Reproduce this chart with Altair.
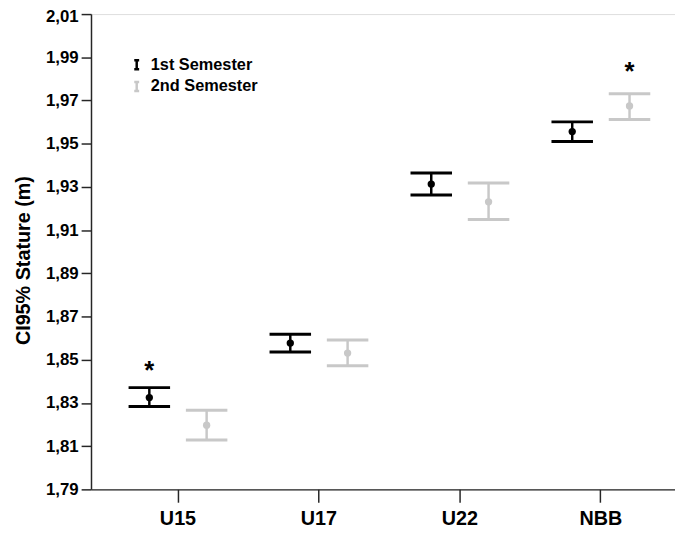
import altair as alt
import pandas as pd

# ---- data ----
categories = ["U15", "U17", "U22", "NBB"]
semesters = ["1st Semester", "2nd Semester"]

sem1_mean = [1.8325, 1.8577, 1.9313, 1.9556]
sem1_lo = [1.8284, 1.8536, 1.9263, 1.9510]
sem1_hi = [1.8371, 1.8618, 1.9364, 1.9601]

sem2_mean = [1.8197, 1.8531, 1.9231, 1.9675]
sem2_lo = [1.8129, 1.8472, 1.9149, 1.9612]
sem2_hi = [1.8266, 1.8591, 1.9318, 1.9731]

star_cat = ["U15", "NBB"]
star_sem = ["1st Semester", "2nd Semester"]
star_y = [1.8472, 1.9853]

y_ticks = [1.79, 1.81, 1.83, 1.85, 1.87, 1.89, 1.91, 1.93, 1.95, 1.97, 1.99, 2.01]
sem_colors = ["#000000", "#c8c8c8"]

rows = []
for i, c in enumerate(categories):
    rows.append(dict(cat=c, sem=semesters[0], mean=sem1_mean[i], lo=sem1_lo[i], hi=sem1_hi[i]))
    rows.append(dict(cat=c, sem=semesters[1], mean=sem2_mean[i], lo=sem2_lo[i], hi=sem2_hi[i]))
df = pd.DataFrame(rows)
stars = pd.DataFrame(dict(cat=star_cat, sem=star_sem, y=star_y))

FONT = "Liberation Sans"

sem_scale = alt.Scale(domain=semesters, range=sem_colors)

x_enc = alt.X(
    "cat:N",
    sort=categories,
    scale=alt.Scale(range=[0, 604], paddingInner=0, paddingOuter=0.117),
    axis=alt.Axis(
        title=None, labelAngle=0, labelFontSize=20, labelFont=FONT,
        labelFontWeight="bold", labelColor="#000", tickSize=13, labelPadding=7,
        domainColor="#262626", tickColor="#262626", domainWidth=1.5, tickWidth=1.5,
        grid=False,
    ),
)
xoff_enc = alt.XOffset("sem:N", sort=semesters,
                       scale=alt.Scale(paddingInner=0, paddingOuter=0.23))

y_scale = alt.Scale(domain=[1.79, 2.01], nice=False, zero=False)
y_axis = alt.Axis(
    title="CI95% Stature (m)", values=y_ticks,
    labelExpr="replace(format(datum.value, '.2f'), '.', ',')",
    labelFontSize=17, labelFont=FONT, labelFontWeight="bold", labelColor="#000",
    labelOffset={"condition": {"test": "datum.value > 2", "value": 3}, "value": 0},
    tickSize=10, labelPadding=3, grid=False,
    domainColor="#262626", tickColor="#262626", domainWidth=1.5, tickWidth=1.5,
    titleFontSize=20, titleFont=FONT, titleFontWeight="bold", titleColor="#000",
    titleX=-68, titleY=249, titleAngle=-90, titleAlign="center", titleBaseline="middle",
)

base = alt.Chart(df)

whisker = base.mark_rule(strokeWidth=2.5, opacity=1).encode(
    x=x_enc, xOffset=xoff_enc,
    y=alt.Y("lo:Q", scale=y_scale, axis=y_axis),
    y2="hi:Q",
    stroke=alt.Stroke(
        "sem:N", scale=sem_scale,
        legend=alt.Legend(
            title=None, orient="none", legendX=38, legendY=43,
            symbolType="M-0.55,-1H0.55M0,-1V1M-0.55,1H0.55",
            symbolSize=81, symbolStrokeWidth=2.5, symbolFillColor="transparent",
            symbolOpacity=1,
            labelFontSize=16.5, labelFont=FONT, labelFontWeight="bold",
            labelColor="#000", labelOffset=6, rowPadding=2, padding=0,
        ),
    ),
)

cap_lo = base.mark_tick(size=42, thickness=3, opacity=1).encode(
    x=x_enc, xOffset=xoff_enc,
    y=alt.Y("lo:Q", scale=y_scale),
    fill=alt.Fill("sem:N", scale=sem_scale, legend=None),
)
cap_hi = base.mark_tick(size=42, thickness=3, opacity=1).encode(
    x=x_enc, xOffset=xoff_enc,
    y=alt.Y("hi:Q", scale=y_scale),
    fill=alt.Fill("sem:N", scale=sem_scale, legend=None),
)
dots = base.mark_circle(size=55, opacity=1).encode(
    x=x_enc, xOffset=xoff_enc,
    y=alt.Y("mean:Q", scale=y_scale),
    fill=alt.Fill("sem:N", scale=sem_scale, legend=None),
)
star_marks = alt.Chart(stars).mark_text(
    text="*", fontSize=26, font=FONT, fontWeight="bold", color="#000",
    baseline="middle", dy=5,
).encode(
    x=x_enc, xOffset=xoff_enc,
    y=alt.Y("y:Q", scale=y_scale),
)

chart = alt.layer(whisker, cap_lo, cap_hi, dots, star_marks).properties(
    width=591, height=481,
    autosize=alt.AutoSizeParams(type="none"),
    padding={"left": 84, "top": 3, "right": 0, "bottom": 41},
).configure_view(stroke=None).configure(background="white")

chart.save("out.html", embed_options={"renderer": "svg", "actions": False})
